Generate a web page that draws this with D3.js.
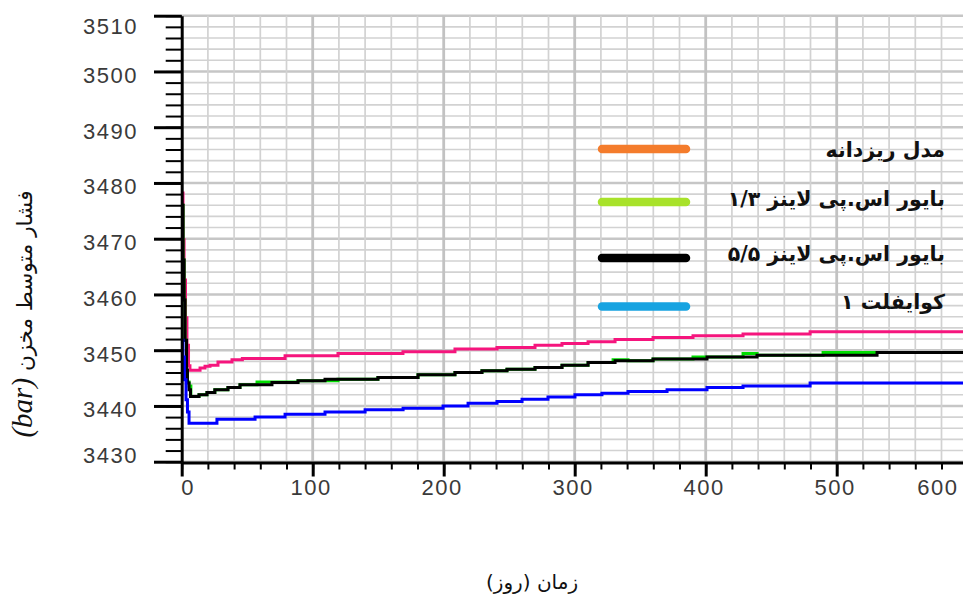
<!DOCTYPE html>
<html><head><meta charset="utf-8">
<script src="https://cdn.jsdelivr.net/npm/d3@7"></script>
<style>
html,body{margin:0;padding:0;background:#fff;}
svg{display:block;}
</style></head>
<body>
<svg id="chart" width="963" height="600"></svg>
<script>
// ---- data ----
const seriesNames = ["مدل ریزدانه", "بایور اس.پی لاینز ۱/۳", "بایور اس.پی لاینز ۵/۵", "کوایفلت ۱"];
const legendColors = ["#f47c2c", "#a8e22a", "#000000", "#17a3e1"];
const lineColors = ["#f5157d", "#00dd00", "#000000", "#0000ff"];

const fineDays = [0,1.0,1.8,2.9,4.0,5.2,6.3,14,17.8,21.6,27.7,38.4,46.3,78.9,119.3,168.9,208.6,240.7,269.7,290.3,310.2,330.8,359.8,390.3,428.5,479.7,612];
const fineValues = [3478.2,3469.8,3462.6,3455.8,3450.9,3447.2,3446.4,3446.8,3447.1,3447.3,3447.9,3448.3,3448.5,3449.0,3449.4,3449.7,3450.2,3450.5,3450.9,3451.2,3451.5,3451.9,3452.3,3452.6,3452.9,3453.3,3453.3];

const bayor13Days = [0,1.0,1.8,2.5,3.7,4.4,5.6,7.0,13.2,19.3,25.3,35.3,44.5,57.5,88.8,119.3,149.8,180.4,208.6,229.2,248.3,269.7,290.3,310.2,329.3,340.7,359.8,390.3,428.5,439.2,489.6,612];
const bayor13Values = [3476.0,3466.2,3459.0,3451.8,3446.4,3444.3,3443.6,3441.7,3442.0,3442.4,3442.9,3443.3,3443.8,3444.3,3444.5,3444.8,3445.1,3445.6,3446.0,3446.3,3446.6,3446.9,3447.3,3447.8,3448.3,3448.1,3448.4,3448.8,3449.4,3449.1,3449.6,3449.6];

const bayor55Days = [0,1.0,1.8,2.5,3.7,4.4,5.6,6.7,13.2,19.3,25.3,35.3,44.5,68.9,88.8,109.4,149.8,180.4,208.6,229.2,248.3,269.7,290.3,310.2,330.8,359.8,401.0,439.2,530.8,612];
const bayor55Values = [3476.0,3466.2,3459.0,3451.8,3446.4,3444.1,3442.9,3441.7,3442.0,3442.4,3442.9,3443.3,3443.8,3444.2,3444.5,3444.8,3445.1,3445.6,3446.0,3446.3,3446.6,3446.9,3447.3,3447.8,3448.1,3448.4,3448.8,3449.1,3449.6,3449.6];

const quaDays = [0,1.0,2.1,3.3,4.4,5.6,26.9,56.0,78.9,109.4,140.0,169.0,199.5,218.6,240.7,259.8,279.6,300.2,320.8,340.7,370.5,401.0,428.5,479.7,612];
const quaValues = [3451.8,3448.8,3444.7,3441.1,3438.9,3436.9,3437.6,3438.0,3438.5,3438.9,3439.3,3439.6,3440.0,3440.5,3440.8,3441.2,3441.6,3442.0,3442.3,3442.6,3442.9,3443.3,3443.6,3444.1,3444.1];

const xMajorTicks = [0,100,200,300,400,500,600];
const yMajorTicks = [3430,3440,3450,3460,3470,3480,3490,3500,3510];
const xTitle = "زمان (روز)";
const yTitleMain = "فشار متوسط مخزن ";
const yTitleUnit = "(bar)";

// ---- layout ----
const svg = d3.select("#chart");
svg.append("rect").attr("width",963).attr("height",600).attr("fill","#fff");
const x = d3.scaleLinear().domain([0,600]).range([181.7,967.7]);
const y = d3.scaleLinear().domain([3430,3510]).range([461.7,15.7]);

const xMinor = d3.range(0, 601, 20);
const yMinor = d3.range(3430, 3511, 2);

// grid
const grid = svg.append("g");
grid.selectAll("line.hg").data(yMinor).join("line")
  .attr("x1", 181.7).attr("x2", 963)
  .attr("y1", d => y(d)).attr("y2", d => y(d))
  .attr("stroke", d => d % 10 === 0 ? "#c6c6c6" : "#d2d2d2")
  .attr("stroke-width", d => d % 10 === 0 ? 2.4 : 1.6);
grid.selectAll("line.vg").data(xMinor.filter(d => d > 0)).join("line")
  .attr("x1", d => x(d)).attr("x2", d => x(d))
  .attr("y1", y(3510)).attr("y2", y(3430))
  .attr("stroke", d => d % 100 === 0 ? "#c2c2c2" : "#d2d2d2")
  .attr("stroke-width", d => d % 100 === 0 ? 2.8 : 1.7);

// legend
const legY = [149, 202, 258, 306.5];
const legTextY = [157, 206, 261, 309];
const leg = svg.append("g");
seriesNames.forEach((name, i) => {
  leg.append("line").attr("x1", 602).attr("x2", 686)
    .attr("y1", legY[i]).attr("y2", legY[i])
    .attr("stroke", legendColors[i]).attr("stroke-width", 8.5)
    .attr("stroke-linecap", "round");
  leg.append("text").attr("x", 945).attr("y", legTextY[i])
    .attr("direction", "rtl").attr("text-anchor", "start")
    .attr("font-family", "DejaVu Sans").attr("font-weight", "bold")
    .attr("font-size", 20.5).attr("fill", "#111").text(name);
});

// series
const allSeries = [
  {days: fineDays, values: fineValues, color: lineColors[0]},
  {days: bayor13Days, values: bayor13Values, color: lineColors[1]},
  {days: bayor55Days, values: bayor55Values, color: lineColors[2]},
  {days: quaDays, values: quaValues, color: lineColors[3]}
];
const line = d3.line().x(d => x(d[0])).y(d => y(d[1])).curve(d3.curveStepAfter);
svg.append("g").selectAll("path").data(allSeries).join("path")
  .attr("d", s => line(s.days.map((d, i) => [d, s.values[i]])))
  .attr("fill", "none").attr("stroke", s => s.color).attr("stroke-width", 3);

// axes
const tickFont = "Liberation Sans";
const yMinorAxis = d3.axisLeft(y).tickValues(yMinor).tickSize(16).tickFormat("").tickSizeOuter(0);
const gyMinor = svg.append("g").attr("transform", "translate(181.7,0)").call(yMinorAxis);
gyMinor.select(".domain").remove();
gyMinor.selectAll(".tick line").attr("stroke", "#000").attr("stroke-width", 2);

const yAxis = d3.axisLeft(y).tickValues(yMajorTicks).tickSize(27.7).tickPadding(16).tickSizeOuter(0)
  .tickFormat(d3.format("d"));
const gy = svg.append("g").attr("transform", "translate(181.7,0)").call(yAxis);
gy.select(".domain").attr("stroke", "#000").attr("stroke-width", 3);
gy.selectAll(".tick line").attr("stroke", "#000").attr("stroke-width", 3);
gy.selectAll(".tick text")
  .attr("font-family", tickFont).attr("font-size", 22).attr("fill", "#3a3a3a")
  .attr("letter-spacing", 1.5)
  .attr("dy", null)
  .attr("y", d => {
    const base = y(d) + 11;
    return Math.max(33, Math.min(462, base)) - y(d);
  });

const xMinorAxis = d3.axisBottom(x).tickValues(xMinor).tickSize(7).tickFormat("").tickSizeOuter(0);
const gxMinor = svg.append("g").attr("transform", "translate(0,462.5)").call(xMinorAxis);
gxMinor.select(".domain").remove();
gxMinor.selectAll(".tick line").attr("stroke", "#000").attr("stroke-width", 2);

const xAxis = d3.axisBottom(x).tickValues(xMajorTicks).tickSize(14).tickPadding(3).tickSizeOuter(0)
  .tickFormat(d3.format("d"));
const gx = svg.append("g").attr("transform", "translate(0,462.5)").call(xAxis);
gx.select(".domain").attr("stroke", "#000").attr("stroke-width", 3);
gx.selectAll(".tick line").attr("stroke", "#000").attr("stroke-width", 3);
gx.selectAll(".tick text")
  .attr("font-family", tickFont).attr("font-size", 22).attr("fill", "#3a3a3a")
  .attr("letter-spacing", 1.5)
  .attr("x", function(d) {
    const w = this.getComputedTextLength();
    const cx = x(d) - 2;
    const clamped = Math.max(181.7 + w / 2 - 1, Math.min(958 - w / 2, cx));
    return clamped - x(d);
  });

// titles
svg.append("text").attr("x", 532).attr("y", 589)
  .attr("direction", "rtl").attr("text-anchor", "middle")
  .attr("font-family", "DejaVu Sans").attr("font-size", 20).attr("fill", "#111")
  .text(xTitle);

const yt = svg.append("text")
  .attr("transform", "translate(32,314) rotate(-90)")
  .attr("direction", "rtl").attr("text-anchor", "middle")
  .attr("fill", "#111");
yt.append("tspan").attr("font-family", "DejaVu Sans").attr("font-size", 21.5).text(yTitleMain);
yt.append("tspan").attr("font-family", "Liberation Serif").attr("font-style", "italic")
  .attr("font-size", 29).text(yTitleUnit);
</script>
</body></html>
